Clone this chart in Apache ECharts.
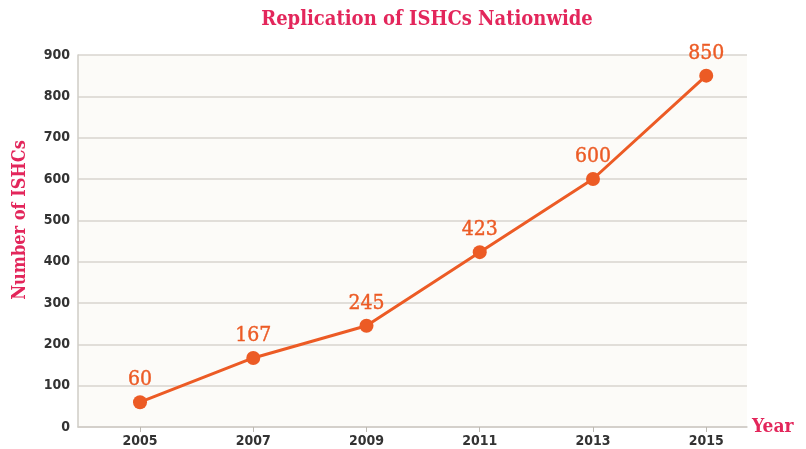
<!DOCTYPE html>
<html>
<head>
<meta charset="utf-8">
<script src="https://cdn.jsdelivr.net/npm/echarts@6/dist/echarts.min.js"></script>
<style>
html,body{margin:0;padding:0;background:#ffffff;}
#chart{width:806px;height:449px;}
</style>
</head>
<body>
<div id="chart"></div>
<script>
const years = [2005, 2007, 2009, 2011, 2013, 2015];
const ishcs = [60, 167, 245, 423, 600, 850];
const yTicks = [0, 100, 200, 300, 400, 500, 600, 700, 800, 900];

const chart = echarts.init(document.getElementById('chart'));
const crimson = '#e3265b';
const orange = '#ec5b25';
const slab = '"DejaVu Serif Condensed", "DejaVu Serif", serif';
const cond = '"DejaVu Sans Condensed", "Liberation Sans Narrow", sans-serif';

chart.setOption({
  backgroundColor: '#ffffff',
  animation: false,
  title: {
    text: 'Replication of ISHCs Nationwide',
    left: 422, top: 5, textAlign: 'center',
    textStyle: {fontFamily: slab, fontWeight: 'bold', fontSize: 20, color: crimson}
  },
  grid: {left: 78, top: 55, right: 59, bottom: 22, show: true, backgroundColor: '#fcfbf8', borderWidth: 0},
  xAxis: {
    type: 'value',
    min: 2003.905, max: 2015.72,
    name: 'Year',
    nameLocation: 'end',
    nameGap: 5,
    nameTextStyle: {fontFamily: slab, fontWeight: 'bold', fontSize: 19, color: crimson, verticalAlign: 'middle'},
    axisLine: {show: true, lineStyle: {color: '#cfccc6', width: 1.5}},
    axisTick: {show: true, customValues: years, length: 5, inside: false, lineStyle: {color: '#bdb9b2'}},
    axisLabel: {customValues: years, formatter: v => String(v), fontFamily: cond, fontWeight: 'bold', fontSize: 14, color: '#333333', margin: 7},
    splitLine: {show: false}
  },
  yAxis: {
    type: 'value',
    min: 0, max: 900, interval: 100,
    name: 'Number of ISHCs',
    nameLocation: 'middle',
    nameRotate: 90,
    nameGap: 49,
    nameTextStyle: {fontFamily: slab, fontWeight: 'bold', fontSize: 18, color: crimson, padding: [0, 0, 0, 42]},
    axisLine: {show: true, lineStyle: {color: '#cfccc6', width: 1.5}},
    axisTick: {show: false},
    axisLabel: {fontFamily: cond, fontWeight: 'bold', fontSize: 14, color: '#333333', margin: 8,
      customValues: yTicks},
    splitLine: {show: true, lineStyle: {color: '#d8d5cf', width: 1.5}}
  },
  series: [{
    type: 'line',
    data: years.map((y, i) => [y, ishcs[i]]),
    symbol: 'circle',
    symbolSize: 14,
    lineStyle: {color: orange, width: 3},
    itemStyle: {color: orange},
    label: {show: true, position: 'top', distance: 5, fontFamily: slab, fontSize: 21, color: orange, textBorderColor: orange, textBorderWidth: 0.4}
  }]
});
</script>
</body>
</html>
